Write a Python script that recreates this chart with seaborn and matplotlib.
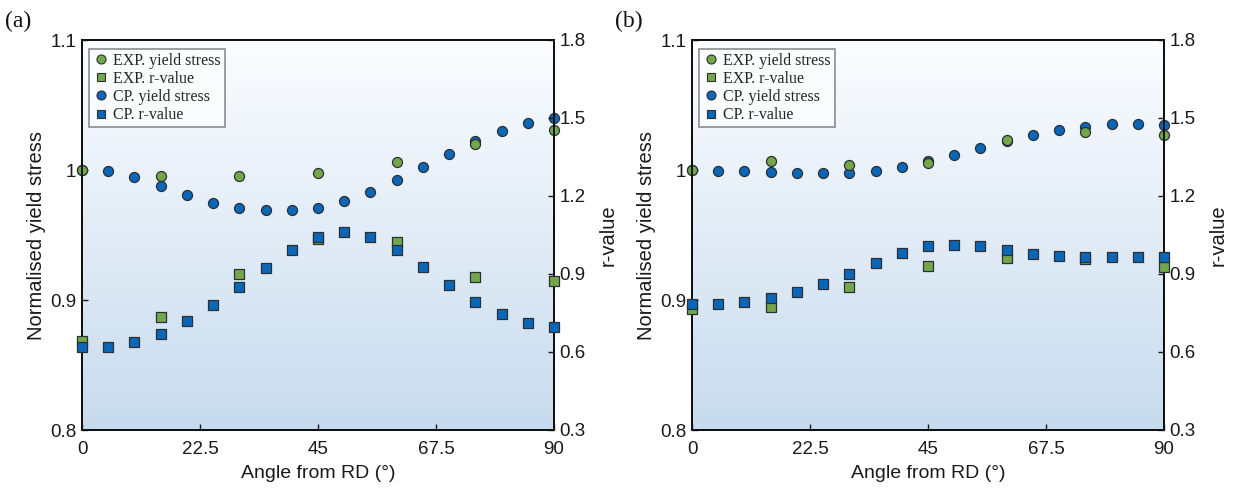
import numpy as np
import pandas as pd
import matplotlib
matplotlib.use("Agg")
import matplotlib.pyplot as plt
from matplotlib.lines import Line2D
from matplotlib.colors import LinearSegmentedColormap
import seaborn as sns

# ---------------- data ----------------
cp_angles = [0, 5, 10, 15, 20, 25, 30, 35, 40, 45, 50, 55, 60, 65, 70, 75, 80, 85, 90]
exp_angles = [0, 15, 30, 45, 60, 75, 90]

# panel (a)
a_cp_stress = [1.000, 0.9995, 0.995, 0.988, 0.981, 0.975, 0.971, 0.9695, 0.9695, 0.971,
               0.976, 0.983, 0.9925, 1.0025, 1.012, 1.022, 1.030, 1.036, 1.040]
a_exp_stress = [1.000, 0.9956, 0.9956, 0.9974, 1.0064, 1.020, 1.0305]
a_cp_r = [0.621, 0.621, 0.638, 0.670, 0.719, 0.781, 0.850, 0.923, 0.994, 1.043,
          1.061, 1.044, 0.994, 0.927, 0.857, 0.794, 0.745, 0.711, 0.698]
a_exp_r = [0.644, 0.736, 0.899, 1.035, 1.022, 0.887, 0.872]

# panel (b)
b_cp_stress = [1.000, 0.9995, 0.9995, 0.9987, 0.998, 0.9974, 0.998, 0.9992, 1.0023, 1.0069,
               1.0115, 1.017, 1.0226, 1.0269, 1.0305, 1.0333, 1.0354, 1.0354, 1.0346]
b_exp_stress = [1.000, 1.0072, 1.0036, 1.0054, 1.0228, 1.0292, 1.0267]
b_cp_r = [0.783, 0.783, 0.794, 0.809, 0.832, 0.860, 0.899, 0.941, 0.981, 1.007,
          1.013, 1.008, 0.993, 0.977, 0.968, 0.965, 0.965, 0.965, 0.967]
b_exp_r = [0.764, 0.773, 0.850, 0.929, 0.961, 0.956, 0.926]

x_ticks = [0, 22.5, 45, 67.5, 90]
x_ticklabels = ["0", "22.5", "45", "67.5", "90"]
y_ticks = [0.8, 0.9, 1.0, 1.1]
y_ticklabels = ["0.8", "0.9", "1", "1.1"]
r_ticks = [0.3, 0.6, 0.9, 1.2, 1.5, 1.8]
r_ticklabels = ["0.3", "0.6", "0.9", "1.2", "1.5", "1.8"]
legend_labels = ["EXP. yield stress", "EXP. r-value", "CP. yield stress", "CP. r-value"]
panel_labels = ["(a)", "(b)"]

# ---------------- style ----------------
sns.set_theme(style="ticks")
plt.rcParams["font.family"] = ["Liberation Sans", "DejaVu Sans"]

GREEN = "#72a84a"
BLUE = "#0a67b8"
EDGE = "#2b2f36"
TXT = "#1a1a1a"

fig = plt.figure(figsize=(12.34, 4.88), dpi=100)

grad_cmap = LinearSegmentedColormap.from_list("bg", ["#fbfdff", "#e2ecf6", "#c7dbee"])

panels = [
    (a_cp_stress, a_exp_stress, a_cp_r, a_exp_r),
    (b_cp_stress, b_exp_stress, b_cp_r, b_exp_r),
]
lefts = [82 / 1234, 692 / 1234]
width = 472 / 1234
bottom = (488 - 430) / 488
height = 390 / 488

for i, (cps, exps, cpr, expr) in enumerate(panels):
    ax = fig.add_axes([lefts[i], bottom, width, height])
    ax.set_facecolor("none")
    ax2 = ax.twinx()

    grad = np.linspace(0, 1, 256).reshape(-1, 1)
    ax.imshow(grad, extent=[0, 1, 0, 1], transform=ax.transAxes, aspect="auto",
              cmap=grad_cmap, origin="upper", zorder=0)

    df_cp = pd.DataFrame({"angle": cp_angles, "stress": cps, "r": cpr})
    df_exp = pd.DataFrame({"angle": exp_angles, "stress": exps, "r": expr})

    # yield stress (left axis) - CP under EXP
    sns.scatterplot(data=df_cp, x="angle", y="stress", ax=ax, marker="o", s=52,
                    color=BLUE, edgecolor=EDGE, linewidth=0.9, zorder=3, clip_on=False)
    sns.scatterplot(data=df_exp, x="angle", y="stress", ax=ax, marker="o", s=52,
                    color=GREEN, edgecolor=EDGE, linewidth=0.9, zorder=4, clip_on=False)
    # r-values (right axis) - EXP under CP
    sns.scatterplot(data=df_exp, x="angle", y="r", ax=ax2, marker="s", s=44,
                    color=GREEN, edgecolor=EDGE, linewidth=0.9, zorder=3, clip_on=False)
    sns.scatterplot(data=df_cp, x="angle", y="r", ax=ax2, marker="s", s=44,
                    color=BLUE, edgecolor=EDGE, linewidth=0.9, zorder=4, clip_on=False)

    ax.set_xlim(0, 90)
    ax.set_ylim(0.8, 1.1)
    ax2.set_ylim(0.3, 1.8)
    ax.set_xticks(x_ticks)
    ax.set_xticklabels(x_ticklabels)
    ax.set_yticks(y_ticks)
    ax.set_yticklabels(y_ticklabels)
    ax2.set_yticks(r_ticks)
    ax2.set_yticklabels(r_ticklabels)

    ax.set_xlabel("Angle from RD (°)", fontsize=14, color=TXT, labelpad=5)
    ax.set_ylabel("Normalised yield stress", fontsize=14.5, color=TXT, labelpad=3)
    ax2.set_ylabel("r-value", fontsize=14.5, color=TXT, labelpad=9)

    for a in (ax, ax2):
        a.tick_params(direction="in", length=4, width=1, labelsize=13.5,
                      colors=TXT, pad=4)
        for sp in a.spines.values():
            sp.set_visible(True)
            sp.set_linewidth(1.4)
            sp.set_color("#111111")
    ax.tick_params(axis="x", pad=8)

    handles = [
        Line2D([], [], linestyle="none", marker="o", markersize=6.5,
               markerfacecolor=GREEN, markeredgecolor=EDGE, markeredgewidth=0.8),
        Line2D([], [], linestyle="none", marker="s", markersize=6,
               markerfacecolor=GREEN, markeredgecolor=EDGE, markeredgewidth=0.8),
        Line2D([], [], linestyle="none", marker="o", markersize=6.5,
               markerfacecolor=BLUE, markeredgecolor=EDGE, markeredgewidth=0.8),
        Line2D([], [], linestyle="none", marker="s", markersize=6,
               markerfacecolor=BLUE, markeredgecolor=EDGE, markeredgewidth=0.8),
    ]
    leg = ax2.legend(handles, legend_labels, loc="upper left",
                     bbox_to_anchor=(0.014, 0.978), frameon=True, fancybox=False,
                     prop={"family": "Liberation Serif", "size": 11.5},
                     handletextpad=0.3, handlelength=1.0, labelspacing=0.14,
                     borderpad=0.25, borderaxespad=0.0)
    leg.get_frame().set_edgecolor("#444444")
    leg.get_frame().set_linewidth(1.2)
    leg.get_frame().set_facecolor("white")
    leg.get_frame().set_alpha(0.6)

    fig.text(lefts[i] - 0.062, 0.957, panel_labels[i], fontsize=17,
             family="Liberation Serif", color="#111111", va="center", ha="left")

fig.savefig("out.png", dpi=100)
